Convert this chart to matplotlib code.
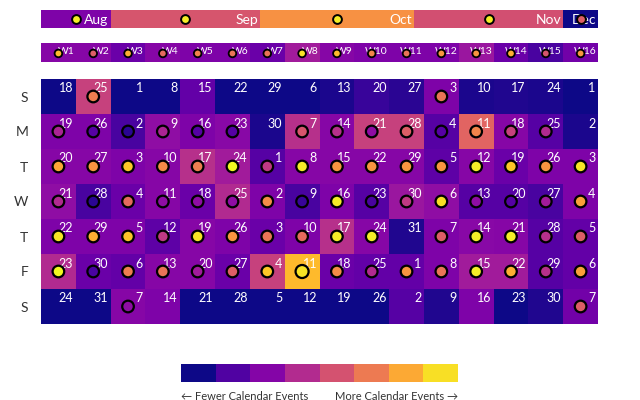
import numpy as np
import pandas as pd
import matplotlib
matplotlib.use("Agg")
import matplotlib.pyplot as plt

plt.rcParams['font.family'] = ['Lato', 'DejaVu Sans']

start_date = "2019-08-18"
n_weeks = 16
weekday_labels = ["S", "M", "T", "W", "T", "F", "S"]
week_labels = [f"W{i}" for i in range(1, 17)]
month_labels = ["Aug", "Sep", "Oct", "Nov", "Dec"]

# cell intensity (0..1), one list per week, Sun..Sat
cell_vals = [
    [0.00, 0.25, 0.27, 0.30, 0.25, 0.40, 0.00],
    [0.48, 0.25, 0.27, 0.12, 0.25, 0.20, 0.00],
    [0.00, 0.12, 0.25, 0.20, 0.25, 0.18, 0.27],
    [0.00, 0.30, 0.27, 0.27, 0.17, 0.27, 0.25],
    [0.18, 0.25, 0.42, 0.20, 0.27, 0.27, 0.00],
    [0.00, 0.28, 0.35, 0.40, 0.25, 0.20, 0.00],
    [0.00, 0.02, 0.15, 0.25, 0.20, 0.48, 0.00],
    [0.00, 0.42, 0.27, 0.12, 0.25, 0.85, 0.00],
    [0.02, 0.27, 0.27, 0.25, 0.42, 0.20, 0.00],
    [0.08, 0.48, 0.27, 0.15, 0.27, 0.18, 0.00],
    [0.05, 0.48, 0.27, 0.33, 0.03, 0.18, 0.15],
    [0.25, 0.15, 0.17, 0.30, 0.25, 0.25, 0.03],
    [0.02, 0.60, 0.27, 0.15, 0.28, 0.35, 0.25],
    [0.03, 0.27, 0.20, 0.15, 0.27, 0.35, 0.00],
    [0.02, 0.15, 0.25, 0.12, 0.15, 0.15, 0.03],
    [0.00, 0.02, 0.25, 0.25, 0.18, 0.18, 0.22],
]

# circle colour value (0..1), None = no circle
N = None
circle_vals = [
    [N, 0.38, 0.80, 0.40, 0.95, 1.00, N],
    [0.68, 0.15, 0.75, 0.05, 0.82, 0.12, N],
    [N, 0.05, 0.88, 0.62, 0.87, 0.68, 0.30],
    [N, 0.38, 0.72, 0.30, 0.45, 0.65, N],
    [N, 0.15, 0.68, 0.30, 0.95, 0.35, N],
    [N, 0.15, 1.00, 0.30, 0.75, 0.58, N],
    [N, N, 0.45, 0.72, 0.65, 0.88, N],
    [N, 0.55, 0.97, 0.08, 0.62, 0.95, N],
    [N, 0.42, 0.75, 0.97, 0.97, 0.72, N],
    [N, 0.30, 0.75, 0.12, 0.97, 0.40, N],
    [N, 0.58, 0.75, 0.45, N, 0.75, N],
    [0.65, 0.15, 0.75, 0.93, 0.58, 0.65, N],
    [N, 0.70, 0.97, 0.30, 0.97, 0.97, N],
    [N, 0.48, 0.88, 0.15, 0.97, 0.82, N],
    [N, 0.40, 0.75, 0.35, 0.42, 0.42, N],
    [N, N, 0.95, 0.78, 0.58, 0.78, 0.58],
]
big_circle = (7, 5)  # week, day with the larger marker

month_cell_vals = [0.25, 0.55, 0.74, 0.53, 0.00]
month_circle_vals = [0.97, 0.97, 0.97, 0.97, 0.58]

week_cell_vals = [0.27, 0.27, 0.20, 0.27, 0.25, 0.25, 0.20, 0.35,
                  0.27, 0.25, 0.25, 0.25, 0.33, 0.20, 0.12, 0.22]
week_circle_vals = [0.85, 0.58, 0.82, 0.62, 0.70, 0.65, 0.65, 0.95,
                    0.85, 0.70, 0.65, 0.75, 0.75, 0.82, 0.55, 0.75]

legend_steps = 8

cmap = plt.get_cmap("plasma")
W, H = 640, 400
fig = plt.figure(figsize=(6.4, 4.0), dpi=100)


def add_px_axes(x0, y0, x1, y1):
    return fig.add_axes([x0 / W, 1 - y1 / H, (x1 - x0) / W, (y1 - y0) / H])


X0, X1 = 41, 598
dates = pd.date_range(start_date, periods=n_weeks * 7, freq="D")

# ---------------- month bar ----------------
axm = add_px_axes(X0, 10, X1, 28)
axm.set_xlim(0, len(dates))
axm.set_ylim(0, 1)
axm.axis("off")
month_ids = dates.month.values
uniq = list(dict.fromkeys(month_ids))
for i, m in enumerate(uniq):
    idx = np.where(month_ids == m)[0]
    a, b = idx[0], idx[-1] + 1
    axm.barh(0.5, b - a, left=a, height=1, color=cmap(month_cell_vals[i]), linewidth=0)
    axm.text(b - 0.4, 0.45, month_labels[i], ha="right", va="center",
             color="white", fontsize=10)
    axm.scatter([(a + b) / 2], [0.5], s=40, c=[cmap(month_circle_vals[i])],
                edgecolors="black", linewidths=1.4, zorder=5)

# ---------------- week bar ----------------
axw = add_px_axes(X0, 43, X1, 62)
axw.set_xlim(0, n_weeks)
axw.set_ylim(0, 1)
axw.axis("off")
wx = np.arange(n_weeks)
axw.bar(wx + 0.5, 1, width=1, bottom=0, color=cmap(np.array(week_cell_vals)), linewidth=0)
for i in range(n_weeks):
    axw.text(i + 0.96, 0.55, week_labels[i], ha="right", va="center",
             color="white", fontsize=7.5)
axw.scatter(wx + 0.5, np.full(n_weeks, 0.45), s=30, c=cmap(np.array(week_circle_vals)),
            edgecolors="black", linewidths=1.3, zorder=5)

# ---------------- heatmap ----------------
axh = add_px_axes(X0, 79, X1, 324)
grid = np.array(cell_vals).T  # rows = weekday
axh.pcolormesh(np.arange(n_weeks + 1), np.arange(8), grid, cmap=cmap, vmin=0, vmax=1)
axh.set_xlim(0, n_weeks)
axh.set_ylim(7, 0)
for s in axh.spines.values():
    s.set_visible(False)
axh.set_xticks([])
axh.set_yticks(np.arange(7) + 0.5)
axh.set_yticklabels(weekday_labels, fontsize=10, color="#333333")
axh.tick_params(axis="y", length=0, pad=9)

xs, ys, cs, ss = [], [], [], []
for w in range(n_weeks):
    for d in range(7):
        day = dates[w * 7 + d].day
        axh.text(w + 0.93, d + 0.1, str(day), ha="right", va="top",
                 color="white", fontsize=9, zorder=3)
        v = circle_vals[w][d]
        if v is not None:
            xs.append(w + 0.5)
            ys.append(d + 0.5)
            cs.append(cmap(v))
            ss.append(88 if (w, d) == big_circle else 70)
axh.scatter(xs, ys, s=ss, c=cs, edgecolors="black", linewidths=1.6, zorder=4)

# ---------------- legend ----------------
axl = add_px_axes(181, 364, 458, 382)
axl.set_xlim(0, legend_steps)
axl.set_ylim(0, 1)
axl.axis("off")
lx = np.arange(legend_steps)
axl.bar(lx + 0.5, 1, width=1, color=cmap(np.linspace(0, 0.94, legend_steps)), linewidth=0)
fig.text(181 / W, 1 - 396 / H, "\u2190 Fewer Calendar Events", ha="left", va="center",
         fontsize=8, color="#333333")
fig.text(458 / W, 1 - 396 / H, "More Calendar Events \u2192", ha="right", va="center",
         fontsize=8, color="#333333")

fig.savefig("out.png", dpi=100, facecolor="white")
